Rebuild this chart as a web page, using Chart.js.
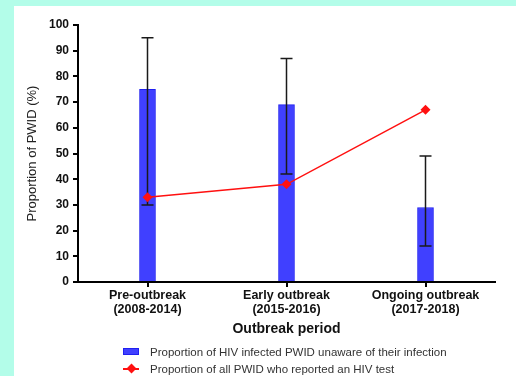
<!DOCTYPE html>
<html>
<head>
<meta charset="utf-8">
<script src="https://cdn.jsdelivr.net/npm/chart.js@4"></script>
<style>
  html, body { margin: 0; padding: 0; }
  body { width: 516px; height: 376px; background: #b3fde9; position: relative; overflow: hidden; font-family: "Liberation Sans", Arial, sans-serif; }
  #panel { position: absolute; left: 14px; top: 6px; right: 0; bottom: 0; background: #fff; }
  #chart-wrap { position: absolute; left: 0; top: 0; width: 516px; height: 376px; }
  #legend { position: absolute; left: 123px; top: 343px; font-size: 11.5px; color: #333; }
  .legend-row { display: flex; align-items: center; height: 17px; }
  .legend-mark { width: 16px; height: 17px; position: relative; margin-right: 11px; }
</style>
</head>
<body>
<div id="panel"></div>
<div id="chart-wrap"><canvas id="hiv-chart" width="516" height="376"></canvas></div>
<div id="legend"></div>
<script>
const categories = [['Pre-outbreak', '(2008-2014)'], ['Early outbreak', '(2015-2016)'], ['Ongoing outbreak', '(2017-2018)']];
const unaware = [75, 69, 29];
const unawareLow = [30, 42, 14];
const unawareHigh = [95, 87, 49];
const tested = [33, 38, 67];
const yTicks = [0, 10, 20, 30, 40, 50, 60, 70, 80, 90, 100];

const fontFamily = '"Liberation Sans", Arial, sans-serif';

// error bars for the bar dataset, drawn through the chart's own scales
const errorBarPlugin = {
    id: 'errorBars',
    afterDatasetDraw(chart, args) {
        if (args.index !== 1) return;
        const ctx = chart.ctx;
        const yScale = chart.scales.y;
        const meta = chart.getDatasetMeta(1);
        ctx.save();
        ctx.strokeStyle = '#1a1a1a';
        ctx.lineWidth = 1.5;
        meta.data.forEach((bar, i) => {
            const x = bar.x;
            const top = yScale.getPixelForValue(unawareHigh[i]);
            const bottom = yScale.getPixelForValue(unawareLow[i]);
            ctx.beginPath();
            ctx.moveTo(x, top);
            ctx.lineTo(x, bottom);
            ctx.moveTo(x - 6, top);
            ctx.lineTo(x + 6, top);
            ctx.moveTo(x - 6, bottom);
            ctx.lineTo(x + 6, bottom);
            ctx.stroke();
        });
        ctx.restore();
    }
};

const ctx = document.getElementById('hiv-chart').getContext('2d');
const chart = new Chart(ctx, {
    data: {
        labels: categories,
        datasets: [
            {
                type: 'line',
                label: 'Proportion of all PWID who reported an HIV test',
                data: tested,
                borderColor: '#ff1010',
                backgroundColor: '#ff1010',
                borderWidth: 1.5,
                pointStyle: 'rectRot',
                pointRadius: 5,
                pointBorderWidth: 0,
                order: 0
            },
            {
                type: 'bar',
                label: 'Proportion of HIV infected PWID unaware of their infection',
                data: unaware,
                backgroundColor: '#4040ff',
                borderColor: '#2020f0',
                borderWidth: 1,
                barThickness: 16,
                order: 1
            }
        ]
    },
    options: {
        responsive: false,
        animation: false,
        devicePixelRatio: 1,
        layout: { padding: { left: 14, right: 21, top: 25, bottom: 34 } },
        plugins: { legend: { display: false }, tooltip: { enabled: false } },
        scales: {
            x: {
                offset: true,
                grid: { display: true, offset: false, drawOnChartArea: false, drawTicks: true, tickLength: 5, color: '#000', lineWidth: 2 },
                border: { display: true, color: '#000', width: 2 },
                ticks: { color: '#111', padding: 1, font: { family: fontFamily, size: 12.5, weight: 'bold', lineHeight: 1.15 }, maxRotation: 0 },
                title: { display: true, text: 'Outbreak period', color: '#111', padding: { top: 0, bottom: 4 }, font: { family: fontFamily, size: 14, weight: 'bold', lineHeight: 1.2 } },
                afterFit(scale) { scale.height = 60; }
            },
            y: {
                min: 0,
                max: 100,
                afterBuildTicks(scale) { scale.ticks = yTicks.map(v => ({ value: v })); },
                grid: { display: true, drawOnChartArea: false, drawTicks: true, tickLength: 5, color: '#000', lineWidth: 2 },
                border: { display: true, color: '#000', width: 2 },
                ticks: { color: '#111', padding: 4, font: { family: fontFamily, size: 12, weight: 'bold' } },
                title: { display: true, text: 'Proportion of PWID (%)', color: '#222', padding: { top: 11, bottom: 0 }, font: { family: fontFamily, size: 13, lineHeight: 1.2 } },
                afterFit(scale) { scale.width = 64; }
            }
        }
    },
    plugins: [errorBarPlugin]
});

// legend below the chart, listed bar first like the reference
function buildLegend() {
    const el = document.getElementById('legend');
    const ds = chart.data.datasets;
    const barDs = ds[1];
    const lineDs = ds[0];
    el.innerHTML = `
        <div class="legend-row">
            <div class="legend-mark"><div style="position:absolute;left:0;top:5px;width:14px;height:5px;background:${barDs.backgroundColor};border:1px solid ${barDs.borderColor};"></div></div>
            <span>${barDs.label}</span>
        </div>
        <div class="legend-row">
            <div class="legend-mark">
                <div style="position:absolute;left:0;top:8px;width:16px;height:1.5px;background:${lineDs.borderColor};"></div>
                <div style="position:absolute;left:4.5px;top:5px;width:7px;height:7px;background:${lineDs.backgroundColor};transform:rotate(45deg);"></div>
            </div>
            <span>${lineDs.label}</span>
        </div>
    `;
}
buildLegend();
</script>
</body>
</html>
